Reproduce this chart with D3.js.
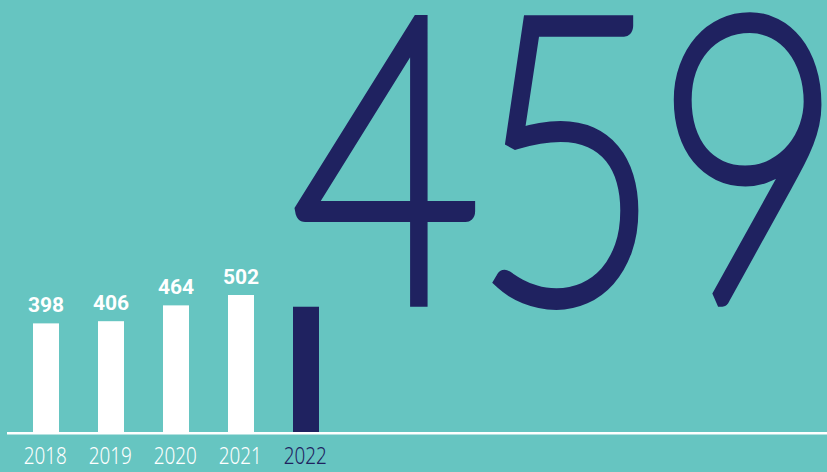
<!DOCTYPE html>
<html>
<head>
<meta charset="utf-8">
<script src="https://cdn.jsdelivr.net/npm/d3@7"></script>
<style>
  html, body { margin: 0; padding: 0; background: #66C5C1; overflow: hidden; }
  svg { display: block; }
</style>
</head>
<body>
<div id="chart"></div>
<script>
// data
var years = ["2018", "2019", "2020", "2021", "2022"];
var values = [398, 406, 464, 502, 459];
var currentYear = "2022";

var width = 827, height = 472;
var teal = "#66C5C1", navy = "#1F2260";

var svg = d3.select("#chart").append("svg")
  .attr("width", width)
  .attr("height", height);

svg.append("rect")
  .attr("width", width)
  .attr("height", height)
  .attr("fill", teal);

var x = d3.scaleBand()
  .domain(years)
  .range([13.5, 338.5])
  .paddingInner(0.6)
  .paddingOuter(0.3);

var y = d3.scaleLinear()
  .domain([0, 502])
  .range([432, 295]);

var rows = years.map(function(yr, i) { return {year: yr, value: values[i]}; });
var isCurrent = function(d) { return d.year === currentYear; };

// the headline figure stands on the current year's bar
// (hairline face thickened with a stroke to get the light weight)
var last = rows[rows.length - 1];
var bigStroke = 17;
svg.append("text")
  .attr("transform", "translate(" + x(last.year) + "," + (y(last.value) - bigStroke / 2) + ") scale(0.82,1)")
  .attr("font-family", "Lato")
  .attr("font-weight", 100)
  .attr("font-size", 392)
  .attr("letter-spacing", -6)
  .attr("fill", navy)
  .attr("stroke", navy)
  .attr("stroke-width", bigStroke)
  .attr("stroke-linejoin", "miter")
  .attr("stroke-miterlimit", 1.5)
  .text(last.value);

// bars
svg.selectAll("rect.bar")
  .data(rows)
  .enter()
  .append("rect")
    .attr("class", "bar")
    .attr("x", function(d) { return x(d.year); })
    .attr("y", function(d) { return y(d.value); })
    .attr("width", x.bandwidth())
    .attr("height", function(d) { return y(0) - y(d.value); })
    .attr("fill", function(d) { return isCurrent(d) ? navy : "#fff"; });

// value labels (skipped for the current year, the big number shows it)
svg.selectAll("text.val")
  .data(rows.filter(function(d) { return !isCurrent(d); }))
  .enter()
  .append("text")
    .attr("class", "val")
    .attr("x", function(d) { return x(d.year) + x.bandwidth() / 2; })
    .attr("y", function(d) { return y(d.value) - 11; })
    .attr("text-anchor", "middle")
    .attr("font-family", "Roboto")
    .attr("font-weight", 700)
    .attr("font-size", 21)
    .attr("fill", "#fff")
    .text(function(d) { return d.value; });

// baseline
svg.append("line")
  .attr("x1", 7)
  .attr("x2", width)
  .attr("y1", y(0) + 1.3)
  .attr("y2", y(0) + 1.3)
  .attr("stroke", "#fff")
  .attr("stroke-width", 2.5);

// year axis
var axis = svg.append("g")
  .attr("transform", "translate(0," + y(0) + ")")
  .call(d3.axisBottom(x).tickSize(0).tickPadding(0));

axis.select(".domain").remove();
axis.selectAll(".tick text")
  .attr("transform", "scale(0.82,1)")
  .attr("y", 32)
  .attr("dy", null)
  .attr("x", -1)
  .attr("font-family", "Noto Sans")
  .attr("font-weight", 300)
  .attr("font-size", 23)
  .attr("fill", function(d) { return d === currentYear ? navy : "#fff"; });
</script>
</body>
</html>
